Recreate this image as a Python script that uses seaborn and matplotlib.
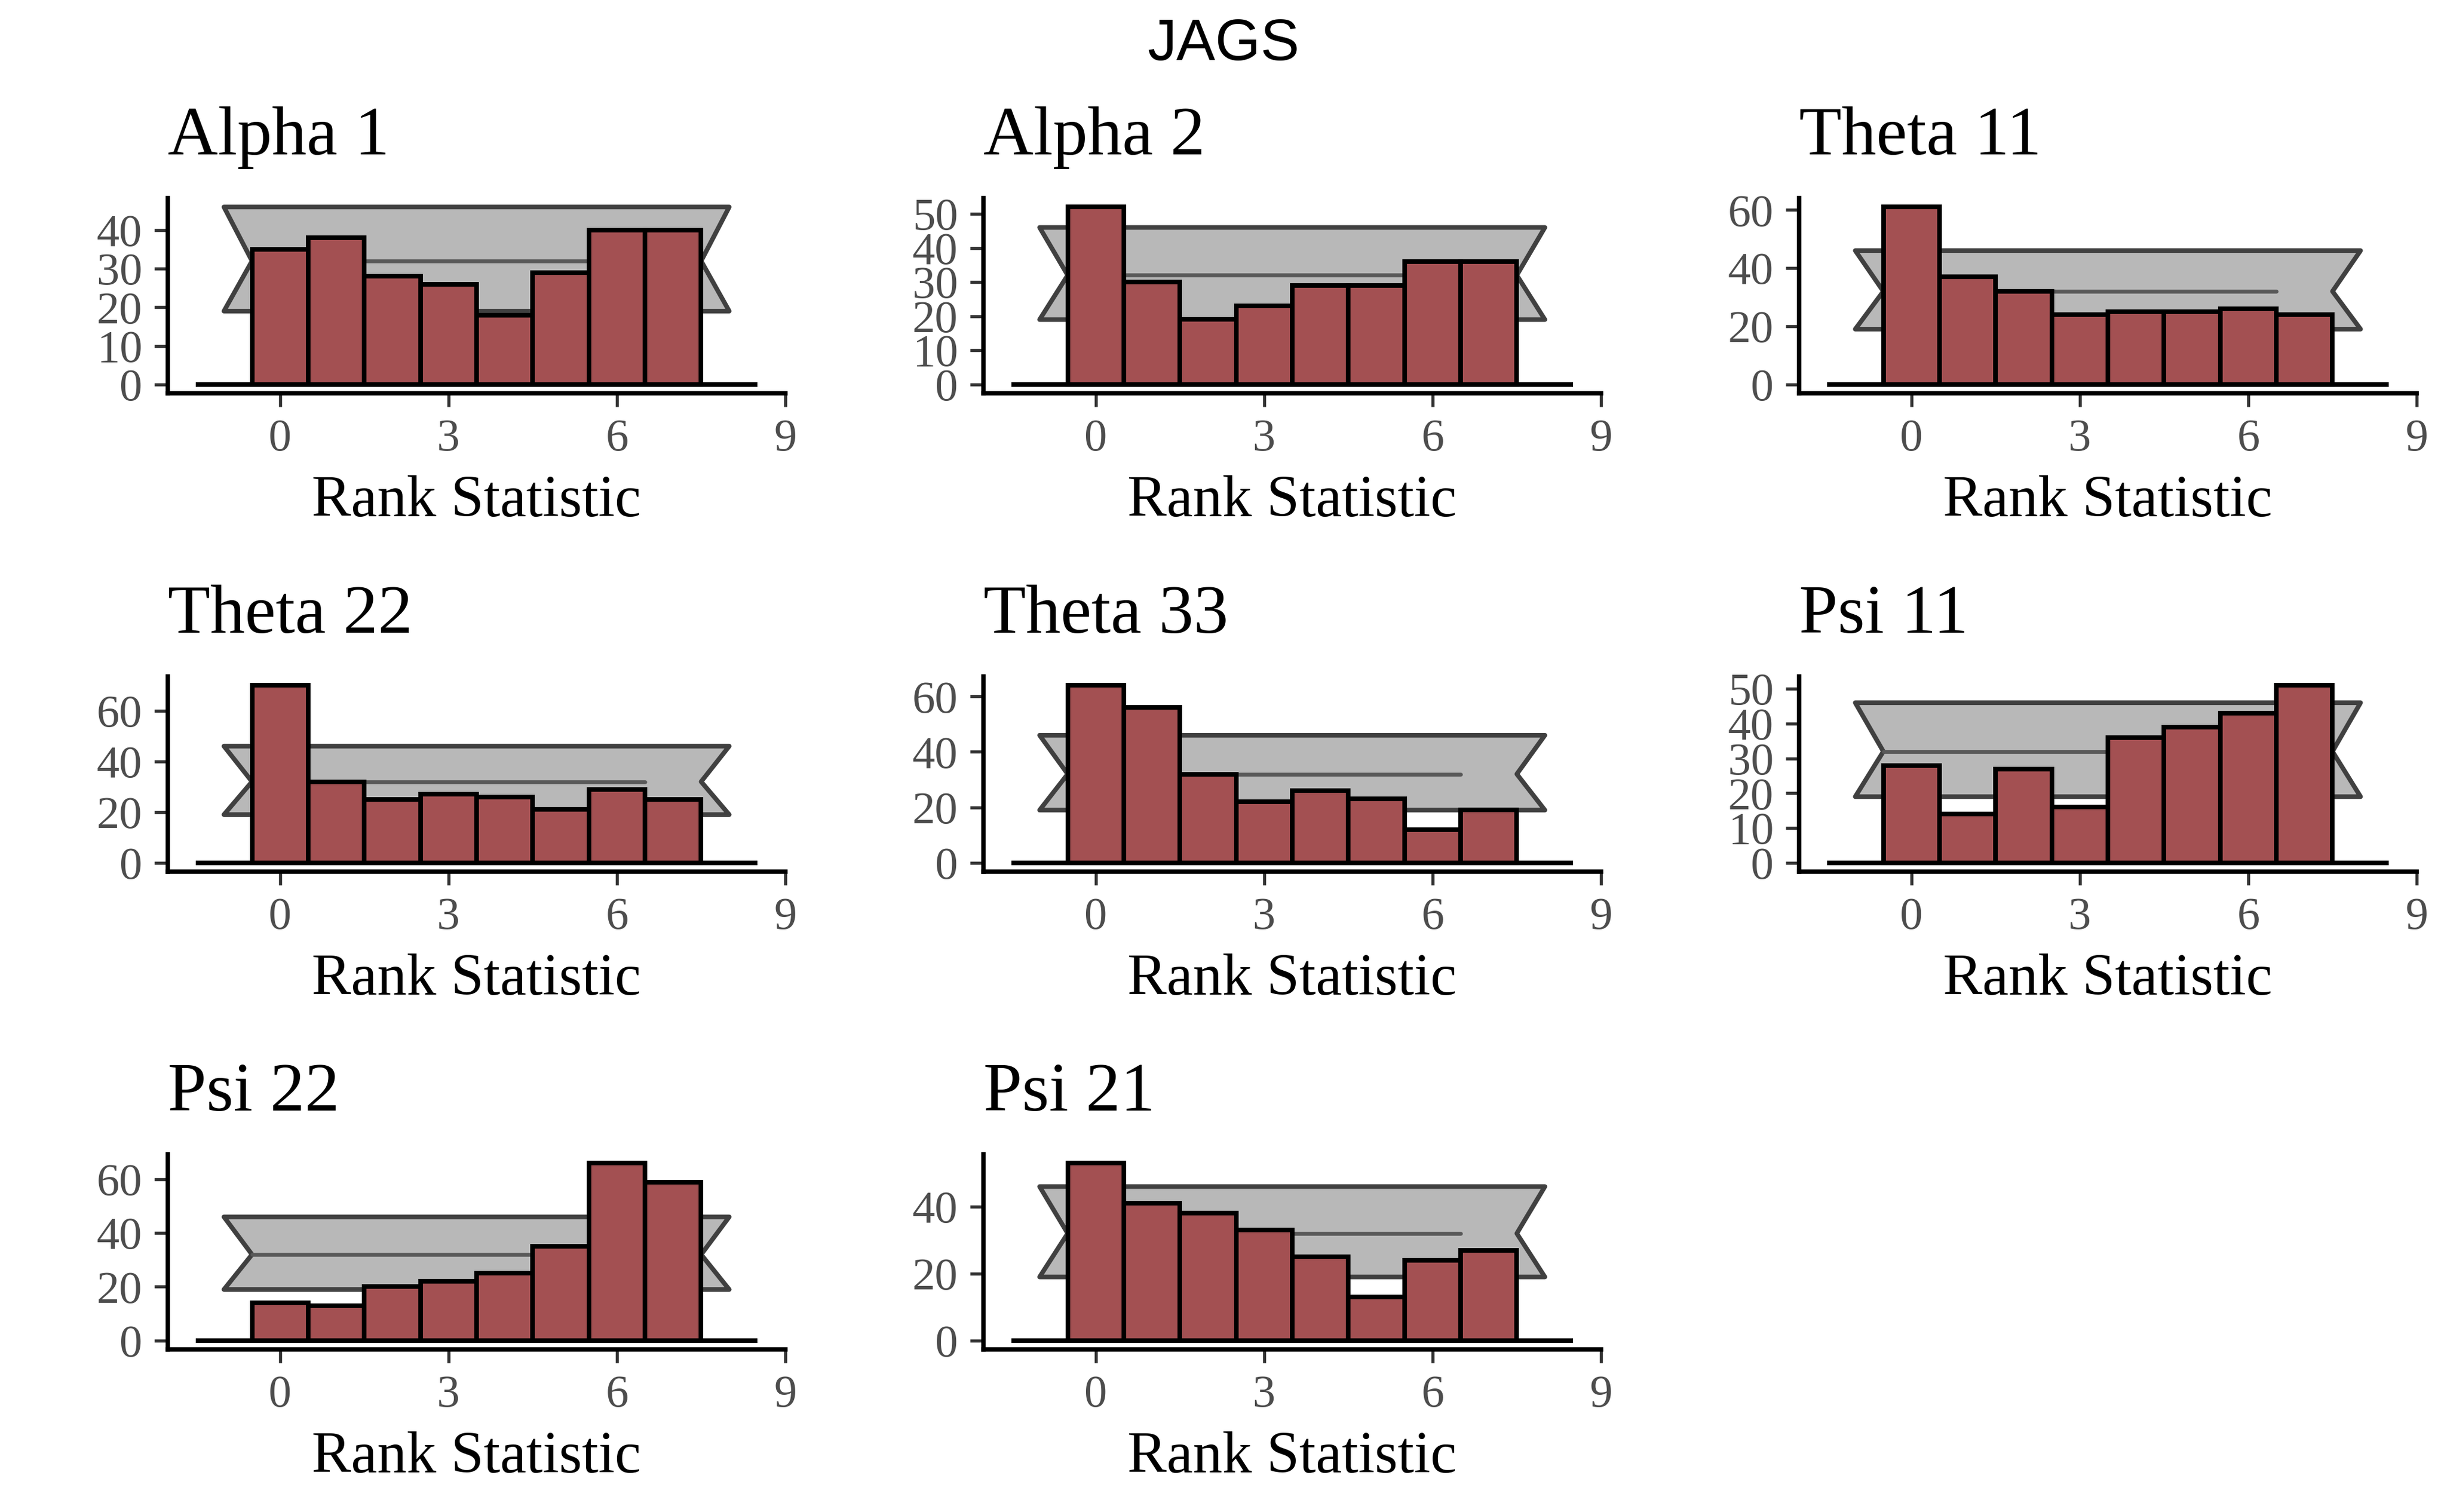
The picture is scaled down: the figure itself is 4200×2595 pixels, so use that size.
import numpy as np
import matplotlib
matplotlib.use('Agg')
import matplotlib.pyplot as plt
import seaborn as sns

# rank statistic bins and counts per parameter
ranks = [0, 1, 2, 3, 4, 5, 6, 7]
titles = ['Alpha 1', 'Alpha 2', 'Theta 11', 'Theta 22', 'Theta 33', 'Psi 11', 'Psi 22', 'Psi 21']
alpha1 = [35, 38, 28, 26, 18, 29, 40, 40]
alpha2 = [52, 30, 19, 23, 29, 29, 36, 36]
theta11 = [61, 37, 32, 24, 25, 25, 26, 24]
theta22 = [70, 32, 25, 27, 26, 21, 29, 25]
theta33 = [64, 56, 32, 22, 26, 23, 12, 19]
psi11 = [28, 14, 27, 16, 36, 39, 43, 51]
psi22 = [14, 13, 20, 22, 25, 35, 66, 59]
psi21 = [53, 41, 38, 33, 25, 13, 24, 27]
counts = [alpha1, alpha2, theta11, theta22, theta33, psi11, psi22, psi21]
ytick_steps = [10, 10, 20, 20, 20, 10, 20, 20]
xticks = [0, 3, 6, 9]

# expected count and uniformity band
ci_lower = 19
ci_mean = 32
ci_upper = 46

bar_color = '#A35052'

sns.set_theme(style='ticks')
plt.rcParams['font.family'] = ['Liberation Serif', 'DejaVu Serif']

W, H = 4200, 2595
fig = plt.figure(figsize=(14, 8.65), dpi=300)
fig.patch.set_facecolor('white')

# panel grid in pixels
col_left = [288, 1688, 3088]
row_top = [340, 1161, 1981]
ax_w, ax_h = 1060, 335

lo = ranks[0] - 0.5
hi = ranks[-1] + 0.5

for i, (name, vals) in enumerate(zip(titles, counts)):
    r, c = divmod(i, 3)
    ax = fig.add_axes([col_left[c] / W, 1 - (row_top[r] + ax_h) / H, ax_w / W, ax_h / H])
    ax.set_facecolor('white')

    # band polygon + expected count line + baseline
    px = [lo - 0.5, lo, lo - 0.5, hi + 0.5, hi, hi + 0.5]
    py = [ci_upper, ci_mean, ci_lower, ci_lower, ci_mean, ci_upper]
    ax.fill(px, py, facecolor='#B8B8B8', edgecolor='#404040', linewidth=1.9, zorder=1,
            joinstyle='round')
    ax.plot([lo, hi - 1], [ci_mean, ci_mean], color='#595959', linewidth=1.6, zorder=2)
    ax.plot([lo - 1, hi + 1], [0, 0], color='black', linewidth=1.9, zorder=2,
            solid_capstyle='butt')

    sns.histplot(x=ranks, weights=vals, discrete=True, color=bar_color, edgecolor='black',
                 linewidth=1.9, alpha=1, ax=ax, zorder=3)

    top = max(ci_upper, max(vals))
    ax.set_xlim(lo - 1.5, hi + 1.5)
    ax.set_ylim(-0.05 * top, top * 1.05)
    ax.set_xticks(xticks)
    ax.set_yticks(np.arange(0, top + 0.01, ytick_steps[i]))

    for s in ['top', 'right']:
        ax.spines[s].set_visible(False)
    for s in ['left', 'bottom']:
        ax.spines[s].set_linewidth(1.8)
        ax.spines[s].set_color('black')
    ax.tick_params(axis='both', length=5.5, width=1.3, color='#333333',
                   labelsize=18.8, labelcolor='#4D4D4D', pad=5)
    ax.set_ylabel('')
    ax.set_xlabel('Rank Statistic', fontsize=24.3, color='black', labelpad=6)
    ax.set_title(name, loc='left', fontsize=28.6, color='black', pad=18)

fig.text(0.5, 1 - 103 / H, 'JAGS', ha='center', va='baseline', fontsize=24,
         family=['Liberation Sans', 'DejaVu Sans'], color='black')

fig.savefig('out.png', dpi=300, facecolor='white')
